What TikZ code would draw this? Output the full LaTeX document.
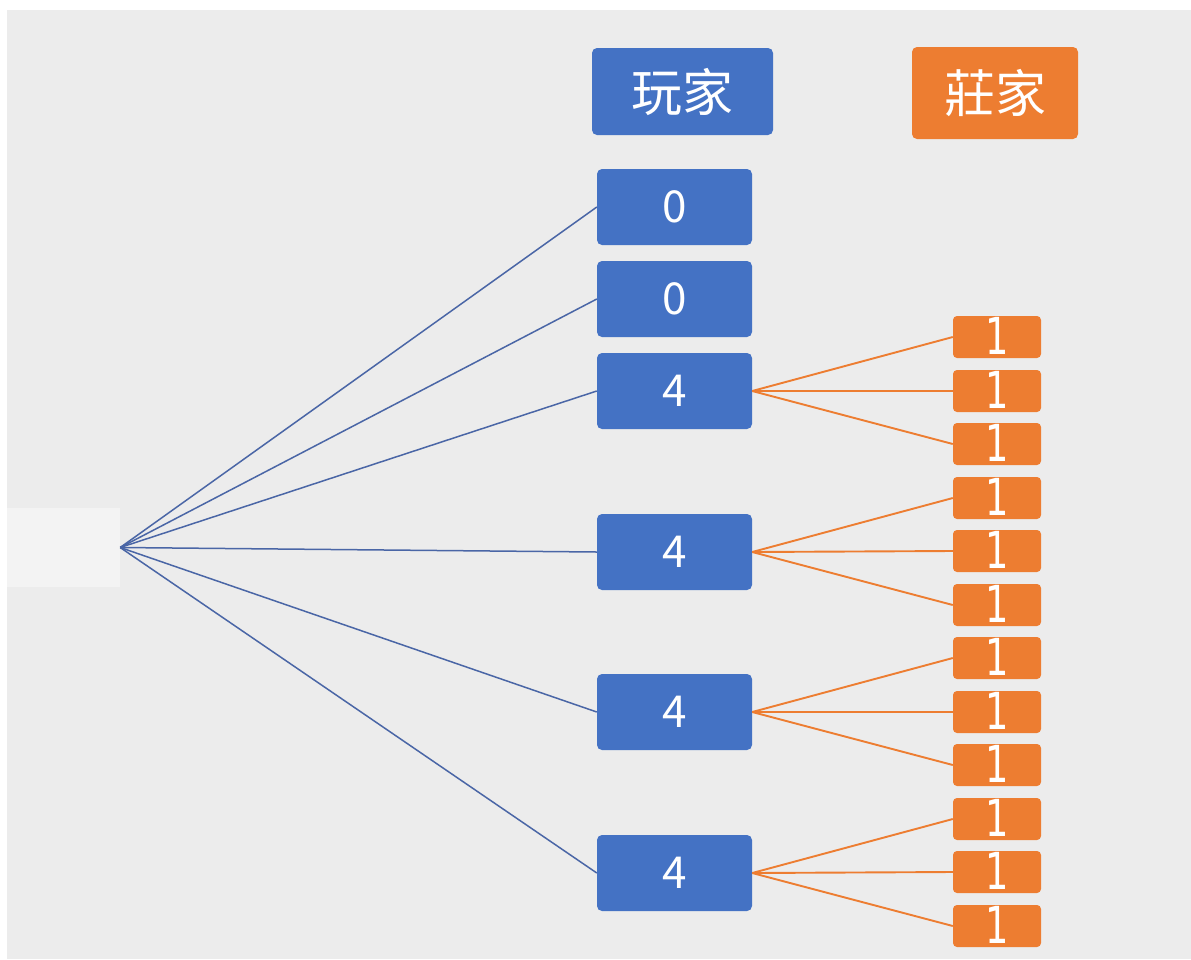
\documentclass[tikz,border=0pt]{standalone}
\usepackage{fontspec}
\newfontfamily\cjk{Noto Sans CJK TC}
\newfontfamily\dvs{DejaVu Sans}
\definecolor{bg}{HTML}{ECECEC}
\definecolor{pale}{HTML}{F3F3F3}
\definecolor{pblue}{HTML}{4472C4}
\definecolor{porange}{HTML}{ED7D31}
\definecolor{lblue}{HTML}{4A66A6}
\newcommand{\onedig}{\raisebox{2pt}{\scalebox{0.72}[1]{1}}}
\tikzset{
  bluebox/.style={fill=pblue, draw=none, rounded corners=5pt, minimum width=155pt, minimum height=76pt, inner sep=0pt, text=white, font=\cjk\fontsize{44}{44}\selectfont},
  headbox/.style={rounded corners=5pt, inner sep=0pt, text=white, font=\cjk\fontsize{51}{51}\selectfont},
  orbox/.style={fill=porange, draw=none, rounded corners=4pt, minimum width=88pt, minimum height=42pt, inner sep=0pt, text=white, font=\dvs\fontsize{51}{51}\selectfont},
  blink/.style={draw=lblue, line width=1.5pt},
  olink/.style={draw=porange, line width=1.9pt},
}
\begin{document}
\begin{tikzpicture}[x=1pt,y=-1pt]
\useasboundingbox (0,0) rectangle (1191,959);
\fill[white] (0,0) rectangle (1191,959);
\fill[bg] (7,10) rectangle (1191,959);
\node[fill=pale, minimum width=113pt, minimum height=79pt, inner sep=0pt] (src) at (63.5,547.5) {};
\node[headbox, fill=pblue, minimum width=181pt, minimum height=87pt] (hp) at (682.5,91.5) {玩家};
\node[headbox, fill=porange, minimum width=166pt, minimum height=92pt] (hb) at (995,93) {莊家};
\node[bluebox] (p1) at (674.5,207) {0};
\node[bluebox] (p2) at (674.5,299) {0};
\node[bluebox] (p3) at (674.5,391) {4};
\node[bluebox] (p4) at (674.5,552) {4};
\node[bluebox] (p5) at (674.5,712) {4};
\node[bluebox] (p6) at (674.5,873) {4};
\foreach \i/\y in {1/337,2/391,3/444,4/498,5/551,6/605,7/658,8/712,9/765,10/819,11/872,12/926}
  \node[orbox] (b\i) at (997,\y) {\onedig};
\foreach \p in {p1,p2,p3,p4,p5,p6}
  \draw[blink] (src.east) -- (\p.west);
\foreach \i in {1,2,3} \draw[olink] (p3.east) -- (b\i.west);
\foreach \i in {4,5,6} \draw[olink] (p4.east) -- (b\i.west);
\foreach \i in {7,8,9} \draw[olink] (p5.east) -- (b\i.west);
\foreach \i in {10,11,12} \draw[olink] (p6.east) -- (b\i.west);
\end{tikzpicture}
\end{document}
